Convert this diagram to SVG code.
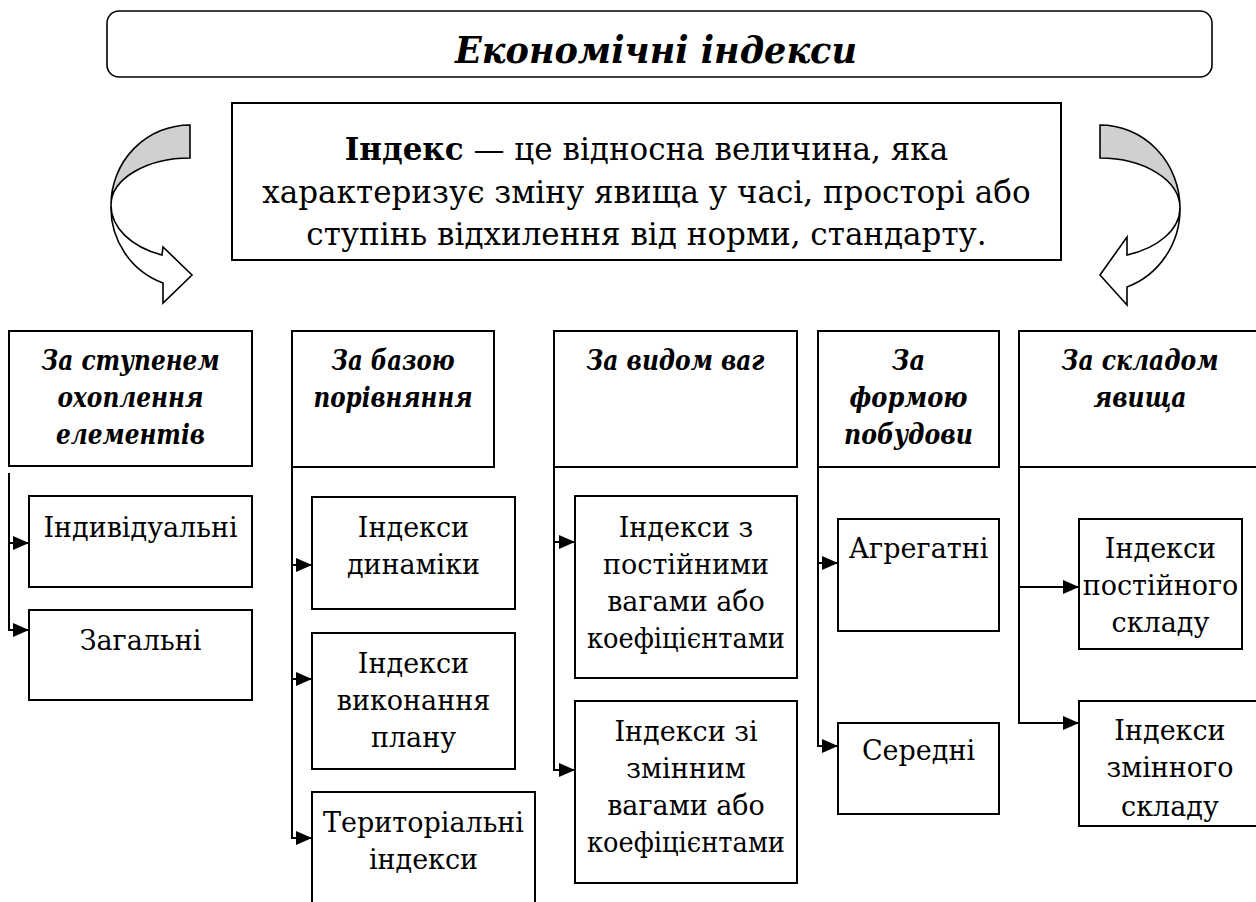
<svg xmlns="http://www.w3.org/2000/svg" width="1256" height="902" viewBox="0 0 1256 902">
<defs>
<style>
.box{fill:#fff;stroke:#000;stroke-width:2}
.t{font-family:"DejaVu Serif","Liberation Serif",serif;font-size:27px;fill:#000;text-anchor:middle}
.h{font-weight:bold;font-style:italic}
.c{fill:none;stroke:#000;stroke-width:2}
.arr{stroke:#000;stroke-width:1.6;stroke-linejoin:miter}
</style>
<marker id="ah" markerUnits="userSpaceOnUse" markerWidth="16" markerHeight="14" viewBox="0 0 16 14" refX="16" refY="7" orient="auto">
<path d="M0,0 L16,7 L0,14 Z" fill="#000"/>
</marker>
<clipPath id="clip5b"><rect x="1080" y="702" width="190" height="123"/></clipPath>
</defs>
<rect width="1256" height="902" fill="#fff"/>

<g id="title">
<rect x="107" y="11" width="1105" height="66" rx="12" ry="12" fill="#fff" stroke="#000" stroke-width="1.6"/>
<text class="t h" x="656" y="63" style="font-size:38px" textLength="402" lengthAdjust="spacingAndGlyphs">Економічні індекси</text>
</g>

<g id="definition">
<rect class="box" x="232" y="103" width="829" height="157"/>
<text class="t" style="font-size:31px" x="646.5" y="160"><tspan font-weight="bold">Індекс</tspan> — це відносна величина, яка</text>
<text class="t" style="font-size:31px" x="646.5" y="203">характеризує зміну явища у часі, просторі або</text>
<text class="t" style="font-size:31px" x="646.5" y="245">ступінь відхилення від норми, стандарту.</text>
</g>

<g id="arrow-left">
<path class="arr" fill="#fff" d="M111,205 A79,80 0 0 0 163,283 L163,303 L192,275 L163,247 L162,255 A79,53 0 0 1 111,205 Z"/>
<path class="arr" fill="#d0d0d0" d="M190,125 A79,80 0 0 0 111,205 A79,47 0 0 1 190,158 Z"/>
</g>
<g id="arrow-right">
<path class="arr" fill="#fff" d="M1180,208 A80,83 0 0 1 1127,287 L1127,305 L1100,275 L1127,237 L1127,255 A80,50 0 0 0 1180,208 Z"/>
<path class="arr" fill="#d0d0d0" d="M1100,125 A80,83 0 0 1 1180,208 A80,50 0 0 0 1100,158 Z"/>
</g>

<g id="connectors">
<path class="c" d="M9,473 V630 H29" marker-end="url(#ah)"/>
<path class="c" d="M9,543 H29" marker-end="url(#ah)"/>
<path class="c" d="M292,428 V838 H312" marker-end="url(#ah)"/>
<path class="c" d="M292,565 H312" marker-end="url(#ah)"/>
<path class="c" d="M292,679 H312" marker-end="url(#ah)"/>
<path class="c" d="M554,452 V770 H575" marker-end="url(#ah)"/>
<path class="c" d="M554,542 H575" marker-end="url(#ah)"/>
<path class="c" d="M818,455 V746 H838" marker-end="url(#ah)"/>
<path class="c" d="M818,563 H838" marker-end="url(#ah)"/>
<path class="c" d="M1019,452 V723 H1079" marker-end="url(#ah)"/>
<path class="c" d="M1019,587 H1079" marker-end="url(#ah)"/>
</g>

<g id="h1">
<rect class="box" x="9" y="331" width="243" height="135"/>
<text class="t h" x="130.5" y="370" textLength="178" lengthAdjust="spacingAndGlyphs">За ступенем</text>
<text class="t h" x="130.5" y="407" textLength="146" lengthAdjust="spacingAndGlyphs">охоплення</text>
<text class="t h" x="130.5" y="444" textLength="149" lengthAdjust="spacingAndGlyphs">елементів</text>
</g>
<g id="n1a">
<rect class="box" x="29" y="496" width="223" height="91"/>
<text class="t" x="140.5" y="537">Індивідуальні</text>
</g>
<g id="n1b">
<rect class="box" x="29" y="610" width="223" height="90"/>
<text class="t" x="140.5" y="650">Загальні</text>
</g>

<g id="h2">
<rect class="box" x="292" y="331" width="202" height="136"/>
<text class="t h" x="393" y="370" textLength="123" lengthAdjust="spacingAndGlyphs">За базою</text>
<text class="t h" x="393" y="407" textLength="159" lengthAdjust="spacingAndGlyphs">порівняння</text>
</g>
<g id="n2a">
<rect class="box" x="312" y="497" width="203" height="112"/>
<text class="t" x="413.5" y="537">Індекси</text>
<text class="t" x="413.5" y="574">динаміки</text>
</g>
<g id="n2b">
<rect class="box" x="312" y="633" width="203" height="136"/>
<text class="t" x="413.5" y="673">Індекси</text>
<text class="t" x="413.5" y="710">виконання</text>
<text class="t" x="413.5" y="747">плану</text>
</g>
<g id="n2c">
<rect class="box" x="312" y="792" width="223" height="130"/>
<text class="t" x="423.5" y="832">Територіальні</text>
<text class="t" x="423.5" y="869">індекси</text>
</g>

<g id="h3">
<rect class="box" x="554" y="331" width="243" height="136"/>
<text class="t h" x="675.5" y="370" textLength="178" lengthAdjust="spacingAndGlyphs">За видом ваг</text>
</g>
<g id="n3a">
<rect class="box" x="575" y="496" width="222" height="182"/>
<text class="t" x="686" y="537">Індекси з</text>
<text class="t" x="686" y="574">постійними</text>
<text class="t" x="686" y="611">вагами або</text>
<text class="t" x="686" y="648" textLength="198" lengthAdjust="spacingAndGlyphs">коефіцієнтами</text>
</g>
<g id="n3b">
<rect class="box" x="575" y="701" width="222" height="182"/>
<text class="t" x="686" y="741">Індекси зі</text>
<text class="t" x="686" y="778">змінним</text>
<text class="t" x="686" y="815">вагами або</text>
<text class="t" x="686" y="852" textLength="198" lengthAdjust="spacingAndGlyphs">коефіцієнтами</text>
</g>

<g id="h4">
<rect class="box" x="818" y="331" width="181" height="136"/>
<text class="t h" x="908.5" y="370" textLength="33" lengthAdjust="spacingAndGlyphs">За</text>
<text class="t h" x="908.5" y="407" textLength="118" lengthAdjust="spacingAndGlyphs">формою</text>
<text class="t h" x="908.5" y="444" textLength="129" lengthAdjust="spacingAndGlyphs">побудови</text>
</g>
<g id="n4a">
<rect class="box" x="838" y="519" width="161" height="112"/>
<text class="t" x="918.5" y="558">Агрегатні</text>
</g>
<g id="n4b">
<rect class="box" x="838" y="723" width="161" height="91"/>
<text class="t" x="918.5" y="760">Середні</text>
</g>

<g id="h5">
<rect class="box" x="1019" y="331" width="245" height="136"/>
<text class="t h" x="1140" y="370" textLength="157" lengthAdjust="spacingAndGlyphs">За складом</text>
<text class="t h" x="1140" y="407" textLength="93" lengthAdjust="spacingAndGlyphs">явища</text>
</g>
<g id="n5a">
<rect class="box" x="1079" y="519" width="163" height="130"/>
<text class="t" x="1160.5" y="558">Індекси</text>
<text class="t" x="1160.5" y="595">постійного</text>
<text class="t" x="1160.5" y="632">складу</text>
</g>
<g id="n5b">
<rect class="box" x="1079" y="701" width="185" height="125"/>
<g clip-path="url(#clip5b)">
<text class="t" x="1170" y="740">Індекси</text>
<text class="t" x="1170" y="777">змінного</text>
<text class="t" x="1170" y="816">складу</text>
</g>
</g>
</svg>
